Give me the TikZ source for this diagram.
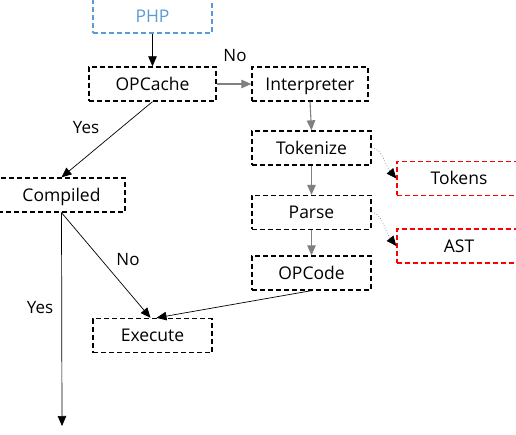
\documentclass[tikz,border=0pt]{standalone}
\usepackage{fontspec}
\setmainfont{Open Sans}
\usetikzlibrary{arrows.meta}
\definecolor{phpblue}{RGB}{91,155,213}
\definecolor{arrgray}{RGB}{128,128,128}
\begin{document}
\begin{tikzpicture}[x=1pt,y=-1pt,
  box/.style={draw=black, dash pattern=on 5pt off 3pt, line width=1.3pt, minimum width=#1, minimum height=34pt, inner sep=0pt, text height=12.5pt, text depth=0pt, font=\fontsize{17.5}{20}\selectfont, anchor=center},
  box/.default=120pt,
  lbl/.style={font=\fontsize{17}{20}\selectfont, inner sep=0pt},
  tip/.style={-{Triangle[length=10pt,width=8.5pt]}},
  blk/.style={tip, draw=black, line width=0.7pt},
  gry/.style={tip, draw=arrgray, line width=1.1pt},
  dot/.style={draw=arrgray, dotted, line width=0.7pt, -{Triangle[length=10pt,width=8.5pt,fill=black,color=black]}}
]
\useasboundingbox (0,0) rectangle (516,435);
\begin{scope}
\clip (0,0) rectangle (516,435);
\node[box=119pt, draw=phpblue, text=phpblue, line width=1.6pt] (php) at (152.5,16) {PHP};
\node[box=127pt] (opc) at (152.5,84) {OPCache};
\node[box=116pt] (int) at (310,84) {Interpreter};
\node[box=119pt] (tok) at (311.5,148) {Tokenize};
\node[box=119pt] (par) at (311.5,212.5) {Parse};
\node[box=119pt] (opcode) at (311.5,273) {OPCode};
\node[box=124pt, draw=red] (tokens) at (459,178.5) {Tokens};
\node[box=124pt, draw=red] (ast) at (459,246) {AST};
\node[box=127pt] (comp) at (61.5,195) {Compiled};
\node[box=119pt] (exe) at (152.5,335.5) {Execute};
\coordinate (end) at (62,426);

\draw[blk] (php.south) -- (opc.north);
\draw[gry] (opc.east) -- (int.west);
\draw[gry] (int.south) -- (tok.north);
\draw[gry] (tok.south) -- (par.north);
\draw[gry] (par.south) -- (opcode.north);
\draw[blk] (opc.south) -- (comp.north);
\draw[blk] (comp.south) -- ([xshift=-2pt]exe.north);
\draw[blk] (opcode.south) -- ([xshift=4pt]exe.north);
\draw[blk] (comp.south) -- (end);
\draw[dot] (tok.east) .. controls (382,148) and (385,165) .. (tokens.west);
\draw[dot] (par.east) .. controls (382,212) and (385,232) .. (ast.west);

\node[lbl] (no1) at (235,56) {No};
\node[lbl] (yes1) at (86,128) {Yes};
\node[lbl] (no2) at (128,260) {No};
\node[lbl] (yes2) at (40,308) {Yes};
\end{scope}
\end{tikzpicture}
\end{document}
